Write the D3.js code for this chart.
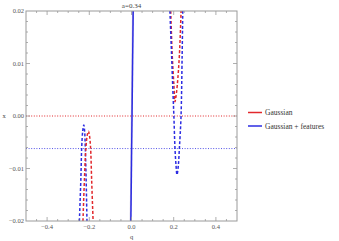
<!DOCTYPE html>
<html>
<head>
<meta charset="utf-8">
<script src="https://cdn.jsdelivr.net/npm/d3@7"></script>
<style>
  body { margin: 0; background: #fff; }
  svg { display: block; font-family: "Liberation Serif", "DejaVu Serif", serif; }
</style>
</head>
<body>
<div id="chart"></div>
<script>
const W = 339, H = 241;
const RED = "#e2282c", BLUE = "#2c2ce2";

// curves, [q, x]
const redLeft = [[-0.230,-0.02],[-0.223,-0.012],[-0.216,-0.006],[-0.209,-0.0035],[-0.204,-0.0029],[-0.199,-0.0038],[-0.194,-0.006],[-0.189,-0.012],[-0.182,-0.02]];
const blueLeft = [[-0.247,-0.02],[-0.240,-0.012],[-0.236,-0.006],[-0.231,-0.0028],[-0.226,-0.0017],[-0.222,-0.003],[-0.219,-0.006],[-0.215,-0.012],[-0.211,-0.02]];
const redRight = [[0.186,0.02],[0.193,0.0116],[0.201,0.0059],[0.206,0.0027],[0.210,0.0035],[0.217,0.0059],[0.227,0.0116],[0.235,0.02]];
const blueRight = [[0.182,0.02],[0.190,0.0116],[0.196,0.005],[0.201,-0.0002],[0.206,-0.0061],[0.211,-0.0094],[0.2156,-0.0112],[0.222,-0.0094],[0.227,-0.0061],[0.2346,-0.0002],[0.240,0.0116],[0.243,0.02]];
const redSolid = [[-0.005,-0.02],[0.006,0.02]];
const blueSolid = [[-0.003,-0.02],[0.008,0.02]];
const redLevel = 0.0;
const blueLevel = -0.0062;

const xTicks = [-0.4, -0.2, 0.0, 0.2, 0.4];
const yTicks = [-0.02, -0.01, 0.0, 0.01, 0.02];
const legendLabels = ["Gaussian", "Gaussian + features"];

const m = {left: 26, right: 237, top: 11, bottom: 221};
const x = d3.scaleLinear().domain([-0.5, 0.5]).range([m.left, m.right]);
const y = d3.scaleLinear().domain([-0.02, 0.02]).range([m.bottom, m.top]);

const svg = d3.select("#chart").append("svg").attr("width", W).attr("height", H);

svg.append("clipPath").attr("id", "clip").append("rect")
    .attr("x", m.left).attr("y", m.top)
    .attr("width", m.right - m.left).attr("height", m.bottom - m.top);

const plot = svg.append("g").attr("clip-path", "url(#clip)");
const line = d3.line().x(d => x(d[0])).y(d => y(d[1])).curve(d3.curveCatmullRom);

// horizontal reference lines
plot.append("line").attr("x1", m.left).attr("x2", m.right)
    .attr("y1", y(redLevel)).attr("y2", y(redLevel))
    .attr("stroke", RED).attr("stroke-width", 1).attr("stroke-dasharray", "1,1.6");
plot.append("line").attr("x1", m.left).attr("x2", m.right)
    .attr("y1", y(blueLevel)).attr("y2", y(blueLevel))
    .attr("stroke", BLUE).attr("stroke-width", 1).attr("stroke-dasharray", "1,1.6").attr("opacity", 0.8);

// solid lines near q = 0
plot.append("path").attr("d", line(redSolid)).attr("fill", "none")
    .attr("stroke", "#c8c0d8").attr("stroke-width", 1.5);
plot.append("path").attr("d", line(blueSolid)).attr("fill", "none")
    .attr("stroke", BLUE).attr("stroke-width", 1.5);

// dashed curves
[[blueLeft, BLUE], [redLeft, RED], [redRight, RED], [blueRight, BLUE]].forEach(([data, c]) => {
    plot.append("path").attr("d", line(data)).attr("fill", "none")
        .attr("stroke", c).attr("stroke-width", 1.5).attr("stroke-dasharray", "3,2");
});

// frame and ticks
const frame = "#9a9a9a";
svg.append("rect").attr("x", m.left).attr("y", m.top)
    .attr("width", m.right - m.left).attr("height", m.bottom - m.top)
    .attr("fill", "none").attr("stroke", frame).attr("stroke-width", 1);

const ticks = svg.append("g").attr("stroke", frame).attr("stroke-width", 0.8);
const xMinor = d3.range(-0.45, 0.5, 0.05).map(v => +v.toFixed(2));
xMinor.forEach(v => {
    const major = xTicks.some(t => Math.abs(t - v) < 1e-9);
    const len = major ? 4 : 2;
    ticks.append("line").attr("x1", x(v)).attr("x2", x(v)).attr("y1", m.bottom).attr("y2", m.bottom - len);
    ticks.append("line").attr("x1", x(v)).attr("x2", x(v)).attr("y1", m.top).attr("y2", m.top + len);
});
const yMinor = d3.range(-0.018, 0.02, 0.002).map(v => +v.toFixed(3));
yMinor.forEach(v => {
    const major = yTicks.some(t => Math.abs(t - v) < 1e-9);
    const len = major ? 4 : 2;
    ticks.append("line").attr("y1", y(v)).attr("y2", y(v)).attr("x1", m.left).attr("x2", m.left + len);
    ticks.append("line").attr("y1", y(v)).attr("y2", y(v)).attr("x1", m.right).attr("x2", m.right - len);
});

const fmtY = v => (v < 0 ? "\u2212" : "") + Math.abs(v).toFixed(2);
const fmtX = v => (v < 0 ? "\u2212" : "") + Math.abs(v).toFixed(1);

svg.append("g").selectAll("text").data(xTicks).join("text")
    .attr("x", d => x(d)).attr("y", m.bottom + 8)
    .attr("text-anchor", "middle").attr("font-size", 6.5).attr("fill", "#555")
    .text(fmtX);
svg.append("g").selectAll("text").data(yTicks).join("text")
    .attr("x", m.left - 2).attr("y", d => y(d) + 2.3)
    .attr("text-anchor", "end").attr("font-size", 6.5).attr("fill", "#555")
    .text(fmtY);

// title and axis labels
svg.append("text").attr("x", x(0)).attr("y", 8).attr("text-anchor", "middle")
    .attr("font-size", 7).attr("fill", "#444").text("a=0.34");
svg.append("text").attr("x", x(0)).attr("y", 238.5).attr("text-anchor", "middle")
    .attr("font-size", 6.5).attr("fill", "#444").text("q");
svg.append("text").attr("x", 4).attr("y", y(0) + 2).attr("text-anchor", "middle")
    .attr("font-size", 6.5).attr("fill", "#444").text("x");

// legend
const leg = svg.append("g");
[RED, BLUE].forEach((c, i) => {
    const ly = 112.5 + i * 13.5;
    leg.append("line").attr("x1", 248).attr("x2", 262).attr("y1", ly).attr("y2", ly)
        .attr("stroke", c).attr("stroke-width", 1.5);
    leg.append("text").attr("x", 265).attr("y", ly + 2.5).attr("font-size", 7.5)
        .attr("fill", "#333").text(legendLabels[i]);
});
</script>
</body>
</html>
